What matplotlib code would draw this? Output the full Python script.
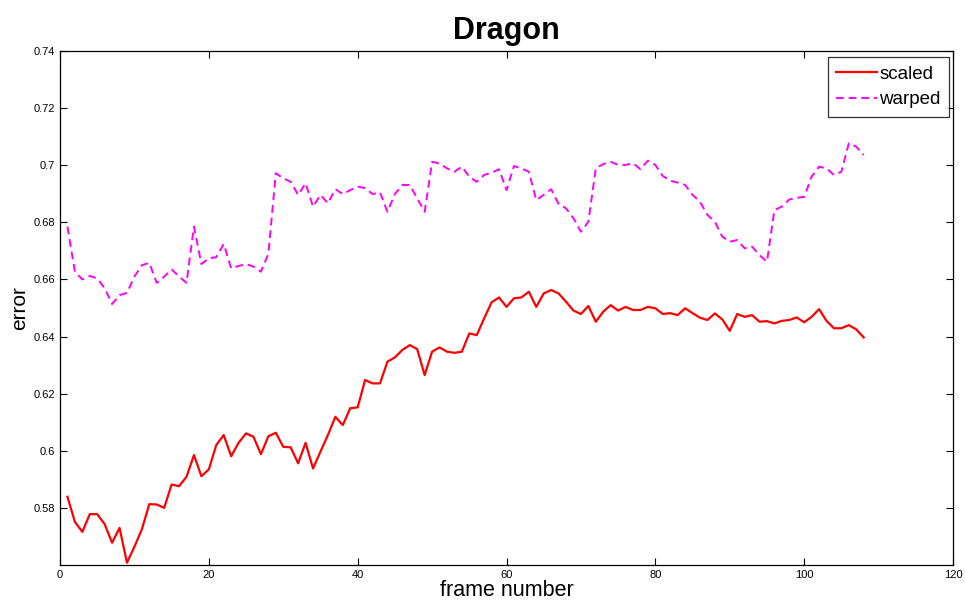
import matplotlib
matplotlib.use("Agg")
import matplotlib.pyplot as plt
from matplotlib.ticker import FuncFormatter

plt.rcParams["font.family"] = ["Liberation Sans", "DejaVu Sans"]

frames = list(range(1, 109))

scaled = [0.5839, 0.5751, 0.5716, 0.5778, 0.5778, 0.5743, 0.5678, 0.5730, 0.5608, 0.5664,
          0.5725, 0.5813, 0.5812, 0.5800, 0.5882, 0.5876, 0.5909, 0.5985, 0.5911, 0.5935,
          0.6020, 0.6055, 0.5981, 0.6028, 0.6061, 0.6049, 0.5988, 0.6051, 0.6063, 0.6014,
          0.6012, 0.5956, 0.6028, 0.5938, 0.5997, 0.6055, 0.6119, 0.6090, 0.6149, 0.6152,
          0.6248, 0.6236, 0.6236, 0.6312, 0.6327, 0.6353, 0.6370, 0.6356, 0.6265, 0.6347,
          0.6362, 0.6347, 0.6343, 0.6347, 0.6411, 0.6405, 0.6464, 0.6520, 0.6537, 0.6504,
          0.6534, 0.6537, 0.6557, 0.6504, 0.6551, 0.6563, 0.6551, 0.6522, 0.6491, 0.6479,
          0.6507, 0.6452, 0.6487, 0.6510, 0.6491, 0.6504, 0.6493, 0.6493, 0.6504, 0.6499,
          0.6479, 0.6482, 0.6475, 0.6499, 0.6482, 0.6466, 0.6458, 0.6481, 0.6460, 0.6420,
          0.6479, 0.6469, 0.6475, 0.6452, 0.6454, 0.6446, 0.6455, 0.6458, 0.6467, 0.6450,
          0.6469, 0.6496, 0.6455, 0.6429, 0.6429, 0.6440, 0.6425, 0.6397]

warped = [0.6785, 0.6627, 0.6600, 0.6612, 0.6604, 0.6569, 0.6514, 0.6545, 0.6553, 0.6610,
          0.6650, 0.6658, 0.6588, 0.6610, 0.6635, 0.6610, 0.6588, 0.6785, 0.6654, 0.6674,
          0.6678, 0.6724, 0.6639, 0.6647, 0.6654, 0.6645, 0.6627, 0.6690, 0.6972, 0.6954,
          0.6942, 0.6896, 0.6937, 0.6855, 0.6896, 0.6867, 0.6916, 0.6899, 0.6913, 0.6925,
          0.6920, 0.6899, 0.6905, 0.6837, 0.6899, 0.6931, 0.6931, 0.6884, 0.6837, 0.7012,
          0.7006, 0.6989, 0.6977, 0.6995, 0.6960, 0.6942, 0.6966, 0.6974, 0.6986, 0.6913,
          0.6997, 0.6989, 0.6977, 0.6878, 0.6896, 0.6916, 0.6864, 0.6849, 0.6814, 0.6767,
          0.6802, 0.6989, 0.7004, 0.7012, 0.7001, 0.7001, 0.7007, 0.6986, 0.7016, 0.7001,
          0.6962, 0.6946, 0.6939, 0.6931, 0.6896, 0.6872, 0.6826, 0.6802, 0.6750, 0.6732,
          0.6738, 0.6709, 0.6715, 0.6685, 0.6662, 0.6843, 0.6855, 0.6880, 0.6886, 0.6889,
          0.6960, 0.6995, 0.6989, 0.6966, 0.6977, 0.7077, 0.7065, 0.7036]

fig = plt.figure(figsize=(9.65, 6.08), dpi=100)
ax = fig.add_axes([60/965, 43/608, 893/965, 514/608])

ax.plot(frames, scaled, color="#ff0000", lw=1.6, label="scaled")
ax.plot(frames, warped, color="#ff00ff", lw=1.4, ls=(0, (4, 2.5)), label="warped")

ax.set_xlim(0, 120)
ax.set_ylim(0.56, 0.74)
ax.set_xticks(range(0, 121, 20))
ax.set_yticks([0.58 + 0.02*i for i in range(9)])
ax.yaxis.set_major_formatter(FuncFormatter(lambda v, p: f"{v:.2f}".rstrip("0")))
ax.tick_params(direction="in", length=5, labelsize=8, top=True, right=True, width=0.8)
for s in ax.spines.values():
    s.set_linewidth(0.9)

ax.set_title("Dragon", fontsize=22, fontweight="bold", pad=9)
ax.set_xlabel("frame number", fontsize=15.5, labelpad=0)
ax.set_ylabel("error", fontsize=15, labelpad=3)

leg = ax.legend(loc="upper right", bbox_to_anchor=(0.9955, 0.988), fontsize=13.5,
                frameon=True, fancybox=False, edgecolor="black", handlelength=2.2,
                borderpad=0.45, labelspacing=0.45, handletextpad=0.1, borderaxespad=0)
leg.get_frame().set_linewidth(0.9)

fig.savefig("out.png", dpi=100, facecolor="white")
